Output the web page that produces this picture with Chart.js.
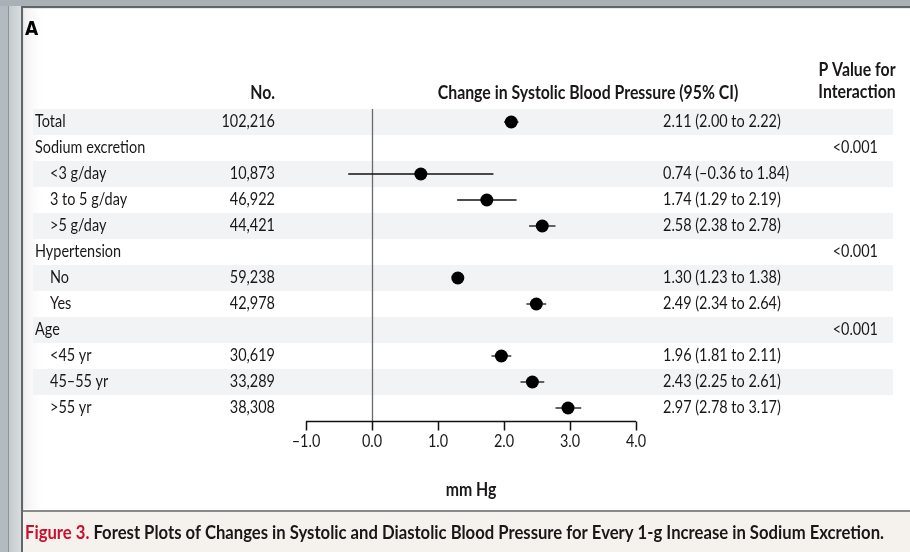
<!DOCTYPE html>
<html lang="en">
<head>
<meta charset="UTF-8">
<title>Forest plot - systolic blood pressure</title>
<script src="https://cdn.jsdelivr.net/npm/chart.js"></script>
<style>
  html, body { margin: 0; padding: 0; background: #fff; }
  canvas { display: block; }
</style>
</head>
<body>
<canvas id="forest" width="910" height="552"></canvas>
<script>
  // table rows, top to bottom
  const rowLabels = ['Total', 'Sodium excretion', '<3 g/day', '3 to 5 g/day', '>5 g/day',
    'Hypertension', 'No', 'Yes', 'Age', '<45 yr', '45\u201355 yr', '>55 yr'];
  const rowIndent = [0, 0, 1, 1, 1, 0, 1, 1, 0, 1, 1, 1];
  const counts = ['102,216', '', '10,873', '46,922', '44,421', '', '59,238', '42,978', '',
    '30,619', '33,289', '38,308'];
  const means = [2.11, null, 0.74, 1.74, 2.58, null, 1.30, 2.49, null, 1.96, 2.43, 2.97];
  const lower = [2.00, null, -0.36, 1.29, 2.38, null, 1.23, 2.34, null, 1.81, 2.25, 2.78];
  const upper = [2.22, null, 1.84, 2.19, 2.78, null, 1.38, 2.64, null, 2.11, 2.61, 3.17];
  const pValues = ['', '<0.001', '', '', '', '<0.001', '', '', '<0.001', '', '', ''];
  const tickValues = [-1, 0, 1, 2, 3, 4];
  const tickLabels = ['\u20131.0', '0.0', '1.0', '2.0', '3.0', '4.0'];

  const INK = '#1a1718';
  const FONT = 'Lato, "Open Sans", sans-serif';
  const SQ = 0.85; // squeeze text sideways, the journal font is condensed

  const fmt = v => (v < 0 ? '\u2013' : '') + Math.abs(v).toFixed(2);

  function put(ctx, str, x, y, font, align, color, sq) {
    ctx.save();
    ctx.font = font;
    ctx.fillStyle = color || INK;
    ctx.textAlign = align || 'left';
    ctx.textBaseline = 'middle';
    ctx.translate(x, y);
    ctx.scale(sq || SQ, 1);
    ctx.fillText(str, 0, 0);
    ctx.restore();
  }

  const pointData = [];
  means.forEach((m, i) => { if (m !== null) pointData.push({ x: m, y: i }); });

  const ciSets = [];
  means.forEach((m, i) => {
    if (m === null) return;
    ciSets.push({
      data: [{ x: lower[i], y: i }, { x: upper[i], y: i }],
      showLine: true,
      borderColor: '#111',
      borderWidth: 1.3,
      pointRadius: 0,
      order: 1
    });
  });

  const forestDecor = {
    id: 'forestDecor',
    beforeDraw(chart) {
      const ctx = chart.ctx;
      const W = chart.width, H = chart.height;
      const y = chart.scales.y;
      ctx.save();
      ctx.fillStyle = '#fff';
      ctx.fillRect(0, 0, W, H);

      // screenshot window frame
      ctx.fillStyle = '#b3bbc0';
      ctx.fillRect(0, 0, 9, H);
      let g = ctx.createLinearGradient(9, 0, 21, 0);
      g.addColorStop(0, '#c4cace');
      g.addColorStop(1, '#d9dddf');
      ctx.fillStyle = g;
      ctx.fillRect(9, 0, 12, H);
      ctx.fillStyle = '#8d959a';
      ctx.fillRect(8, 0, 1, H);
      ctx.fillStyle = '#a9b1b6';
      ctx.fillRect(0, 0, W, 6);
      ctx.fillStyle = '#5f6569';
      ctx.fillRect(21, 6, W - 21, 2);
      ctx.fillRect(21, 6, 2, H - 6);
      ctx.fillStyle = '#e4e6e8';
      ctx.fillRect(23, 8, W - 23, 1);
      ctx.fillRect(23, 8, 1, H - 8);
      g = ctx.createLinearGradient(24, 0, 46, 0);
      g.addColorStop(0, '#efefef');
      g.addColorStop(1, 'rgba(255,255,255,0)');
      ctx.fillStyle = g;
      ctx.fillRect(24, 9, 22, 500);

      // caption band
      ctx.fillStyle = '#f5f2ed';
      ctx.fillRect(23, 512, W - 23, H - 512);
      ctx.fillStyle = '#8a8a8a';
      ctx.fillRect(23, 510, W - 23, 2);

      // row stripes
      ctx.fillStyle = '#f2f3f5';
      rowLabels.forEach((_, i) => {
        if (i % 2) return;
        const t = y.getPixelForValue(i - 0.5);
        const b = y.getPixelForValue(i + 0.5);
        ctx.fillRect(33, Math.min(t, b), 860, Math.abs(b - t));
      });
      ctx.restore();
    },
    beforeDatasetsDraw(chart) {
      const ctx = chart.ctx;
      const x = chart.scales.x;
      const a = chart.chartArea;
      const x0 = Math.round(x.getPixelForValue(0)) + 0.5;
      ctx.save();
      ctx.strokeStyle = '#6b6b6b';
      ctx.lineWidth = 1.3;
      ctx.beginPath();
      ctx.moveTo(x0, a.top);
      ctx.lineTo(x0, a.bottom);
      ctx.stroke();
      ctx.restore();
    },
    afterDraw(chart) {
      const ctx = chart.ctx;
      const x = chart.scales.x, y = chart.scales.y;
      const a = chart.chartArea;
      const reg = '17px ' + FONT;
      const bold = 'bold 18px ' + FONT;

      // axis with ticks hanging down
      const base = Math.round(a.bottom) + 0.5;
      ctx.save();
      ctx.strokeStyle = '#111';
      ctx.lineWidth = 1.5;
      ctx.beginPath();
      ctx.moveTo(x.getPixelForValue(tickValues[0]), base);
      ctx.lineTo(x.getPixelForValue(tickValues[tickValues.length - 1]), base);
      tickValues.forEach(v => {
        const px = Math.round(x.getPixelForValue(v)) + 0.5;
        ctx.moveTo(px, base);
        ctx.lineTo(px, base + 9);
      });
      ctx.stroke();
      ctx.restore();
      tickValues.forEach((v, k) => put(ctx, tickLabels[k], x.getPixelForValue(v), a.bottom + 21, reg, 'center'));
      put(ctx, 'mm Hg', (a.left + a.right) / 2, 490, bold, 'center', INK, 0.88);

      // headings
      put(ctx, 'A', 25, 30, 'bold 19px "DejaVu Sans", sans-serif', 'left', '#000', 0.9);
      put(ctx, 'No.', 275, 93, bold, 'right', INK, 0.88);
      put(ctx, 'Change in Systolic Blood Pressure (95% CI)', 588, 93, bold, 'center', INK, 0.88);
      put(ctx, 'P Value for', 857, 70, bold, 'center', INK, 0.88);
      put(ctx, 'Interaction', 857, 92, bold, 'center', INK, 0.88);

      // table body
      rowLabels.forEach((lab, i) => {
        const py = y.getPixelForValue(i);
        put(ctx, lab, rowIndent[i] ? 50 : 35, py, reg);
        if (counts[i]) put(ctx, counts[i], 275, py, reg, 'right');
        if (means[i] !== null) {
          put(ctx, fmt(means[i]) + ' (' + fmt(lower[i]) + ' to ' + fmt(upper[i]) + ')', 663, py, reg);
        }
        if (pValues[i]) put(ctx, pValues[i], 878, py, reg, 'right');
      });

      // caption, fitted to the band width
      const capFont = 'bold 19px ' + FONT;
      const p1 = 'Figure 3.';
      const p2 = ' Forest Plots of Changes in Systolic and Diastolic Blood Pressure for Every 1-g Increase in Sodium Excretion.';
      ctx.save();
      ctx.font = capFont;
      const w1 = ctx.measureText(p1).width;
      const w2 = ctx.measureText(p2).width;
      ctx.restore();
      const sq = 859 / (w1 + w2);
      put(ctx, p1, 25, 533, capFont, 'left', '#c8102e', sq);
      put(ctx, p2, 25 + w1 * sq, 533, capFont, 'left', INK, sq);
    }
  };

  new Chart(document.getElementById('forest'), {
    type: 'scatter',
    data: {
      datasets: [{
        data: pointData,
        backgroundColor: '#000',
        borderWidth: 0,
        pointRadius: 6.5,
        pointHoverRadius: 6.5,
        order: 0
      }].concat(ciSets)
    },
    options: {
      responsive: false,
      animation: false,
      events: [],
      layout: { padding: { left: 306, right: 274, top: 109, bottom: 131 } },
      scales: {
        x: { type: 'linear', min: -1, max: 4, display: false },
        y: { type: 'linear', min: -0.5, max: 11.5, reverse: true, display: false }
      },
      plugins: { legend: { display: false }, tooltip: { enabled: false } }
    },
    plugins: [forestDecor]
  });
</script>
</body>
</html>
